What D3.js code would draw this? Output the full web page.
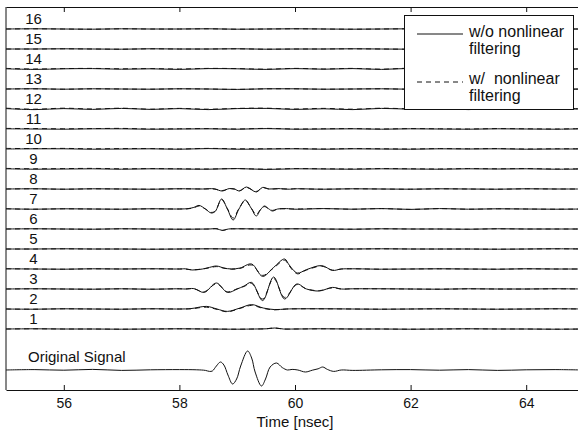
<!DOCTYPE html>
<html lang="en">
<head>
<meta charset="UTF-8">
<title>Channel traces</title>
<script src="https://d3js.org/d3.v7.min.js"></script>
<style>
  body { margin: 0; background: #fff; }
  text { font-family: "Liberation Sans", Arial, sans-serif; fill: #111; }
</style>
</head>
<body>
<script>
// time grid for the background noise of every trace (ns)
const tGrid = [55, 55.5, 56, 56.5, 57, 57.5, 58, 58.5, 59, 59.5, 60, 60.5, 61, 61.5, 62, 62.5, 63, 63.5, 64, 64.5, 65];
const xTicks = [56, 58, 60, 62, 64];
const channelNames = ['1','2','3','4','5','6','7','8','9','10','11','12','13','14','15','16'];

// small background wiggle of each channel, in channel-spacing units
const noiseCh1  = [0, 0.01, 0, 0, -0.01, 0, 0.01, 0, -0.01, 0, 0, 0.01, 0, 0, -0.01, 0, 0.01, 0, 0, -0.01, 0];
const noiseCh2  = [0, -0.01, 0.01, 0, -0.01, 0.01, 0, 0, 0, 0, 0, 0.01, 0, -0.01, 0, 0.01, 0, -0.01, 0, 0.01, 0];
const noiseCh3  = [0, 0.01, 0, -0.01, 0.01, -0.01, 0.01, 0, 0, 0, 0, 0, -0.01, 0.01, 0, -0.01, 0.01, 0, 0, 0.01, 0];
const noiseCh4  = [0.01, 0, -0.01, 0.01, 0, 0.01, -0.01, 0, 0, 0, 0, 0, 0.01, -0.01, 0, 0.01, 0, -0.01, 0.01, 0, 0];
const noiseCh5  = [0, 0, 0.01, 0, 0, -0.01, 0, 0.01, 0, 0, -0.01, 0, 0, 0.01, 0, 0, 0, -0.01, 0, 0.01, 0];
const noiseCh6  = [0, 0.01, 0, -0.01, 0.01, 0, -0.01, 0, 0, 0, 0.01, 0, -0.01, 0.01, 0, 0, -0.01, 0.01, 0, 0, 0];
const noiseCh7  = [0.01, -0.01, 0.01, 0, -0.01, 0.01, 0, 0, 0, 0, -0.02, 0.02, -0.01, 0.02, -0.02, 0.02, -0.01, 0.01, 0, -0.01, 0];
const noiseCh8  = [0, 0.01, -0.01, 0.01, 0, -0.01, 0.01, 0, 0, 0, 0.01, -0.01, 0.01, 0, -0.01, 0.01, 0, -0.01, 0.01, 0, 0];
const noiseCh9  = [0.01, -0.01, 0, 0.01, -0.01, 0.01, 0, -0.01, 0.02, -0.02, 0.01, 0, -0.01, 0.01, 0, -0.01, 0.01, 0, 0.01, -0.01, 0];
const noiseCh10 = [0, 0.01, 0.01, -0.01, 0, 0.01, -0.01, 0.02, -0.01, 0, 0.01, -0.01, 0.01, 0, -0.01, 0.01, 0, 0.01, -0.01, 0, 0];
const noiseCh11 = [0.01, 0, -0.01, 0.01, 0.01, -0.01, 0, 0.01, -0.01, 0.02, -0.01, 0, 0.01, -0.01, 0.01, 0, -0.01, 0.01, 0, -0.01, 0.01];
const noiseCh12 = [0.02, -0.03, 0.02, -0.02, 0.03, -0.02, 0.02, -0.03, 0.02, 0.03, -0.02, 0.01, -0.03, 0.03, -0.01, 0.02, -0.03, 0.02, -0.02, 0.01, -0.01];
const noiseCh13 = [0, 0.01, -0.01, 0.01, 0, -0.01, 0.01, 0, -0.02, 0.01, 0.01, -0.01, 0, 0.01, -0.01, 0.01, 0, -0.01, 0.02, -0.01, 0];
const noiseCh14 = [0.01, -0.02, 0.01, 0.02, -0.01, 0.01, -0.02, 0.02, 0.01, -0.02, 0.02, -0.01, 0.02, -0.02, 0.03, -0.02, 0.02, -0.03, 0.03, -0.02, 0.01];
const noiseCh15 = [0, 0, 0.01, 0, -0.01, 0.01, 0, 0, 0.01, -0.01, 0, 0, 0.01, 0, -0.01, 0, 0.01, 0, 0, -0.01, 0];
const noiseCh16 = [0, 0.01, 0, -0.01, 0.01, 0, 0, 0.01, -0.01, 0, 0.01, 0, -0.01, 0, 0.01, 0, 0, -0.01, 0.01, 0, 0];
const noiseOrig = [0, 0.02, -0.01, 0.03, -0.02, 0.01, 0.02, 0, 0, 0, 0, 0, -0.02, 0.01, 0.02, -0.01, 0.02, -0.02, 0.01, 0.02, 0];

// dashed (w/ filtering) traces that sit visibly off the solid ones
const noiseCh9Dash  = [0.03, 0.01, 0.02, 0.03, 0.01, 0.02, 0.01, 0, 0.02, -0.01, 0.02, 0.01, 0, 0.02, 0.01, 0, 0.02, 0.01, 0.02, 0, 0.01];
const noiseCh10Dash = [0.03, 0.02, 0.03, 0.01, 0.02, 0.02, 0, 0.03, 0.01, 0.01, 0.02, 0, 0.02, 0.01, 0, 0.02, 0.01, 0.02, 0, 0.01, 0.01];
const noiseCh11Dash = [0.03, 0.02, 0.01, 0.02, 0.03, 0, 0.01, 0.02, 0, 0.03, 0, 0.01, 0.02, 0, 0.02, 0.01, 0, 0.02, 0.01, 0, 0.02];
const noiseCh12Dash = [0.04, -0.01, 0.04, 0, 0.04, -0.01, 0.03, -0.01, 0.03, 0.04, 0, 0.03, -0.01, 0.04, 0.01, 0.03, -0.01, 0.03, 0, 0.03, 0.01];
const noiseCh14Dash = [0.03, 0, 0.02, 0.03, 0.01, 0.02, 0, 0.03, 0.02, -0.01, 0.03, 0, 0.03, -0.01, 0.04, -0.01, 0.03, -0.02, 0.04, -0.01, 0.02];

// pulse portions [time ns, value]
const featOrig = [[58.3, 0.01], [58.45, -0.02], [58.52, -0.07], [58.57, -0.05], [58.64, 0.2], [58.71, 0.4], [58.77, 0.25],
  [58.84, -0.25], [58.92, -0.7], [58.99, -0.45], [59.06, 0.2], [59.18, 0.95], [59.25, 0.6], [59.31, -0.1], [59.42, -0.8],
  [59.49, -0.45], [59.57, 0.15], [59.68, 0.35], [59.78, 0.12], [59.87, 0.0], [59.95, 0.03], [60.05, 0.0], [60.18, -0.1],
  [60.3, -0.01], [60.4, 0.06], [60.48, 0.15], [60.56, 0.03], [60.67, -0.07], [60.8, 0.0]];
const featCh1 = [[59.3, 0], [59.5, 0.01], [59.65, 0.05], [59.8, 0.0]];
const featCh2 = [[58.0, 0], [58.2, 0.02], [58.47, 0.13], [58.65, 0.0], [58.83, -0.12], [59.05, 0.05], [59.25, 0.22], [59.45, 0.05], [59.65, -0.03], [59.85, 0.0], [60.1, 0.01]];
const featCh2Dash = [[58.0, 0], [58.2, 0.01], [58.47, 0.09], [58.65, -0.02], [58.83, -0.14], [59.05, 0.03], [59.25, 0.18], [59.45, 0.03], [59.65, -0.04], [59.85, 0.0], [60.1, 0.01]];
const featCh3 = [[58.1, 0], [58.25, 0.02], [58.43, -0.17], [58.64, 0.3], [58.83, -0.17], [59.0, 0.0], [59.12, 0.15], [59.25, 0.33], [59.44, -0.58],
  [59.63, 0.6], [59.82, -0.5], [60.03, 0.25], [60.2, 0.0], [60.42, -0.1], [60.65, 0.08], [60.8, 0], [61.0, 0.01]];
const featCh3Dash = [[58.1, 0], [58.25, 0.01], [58.43, -0.14], [58.64, 0.26], [58.83, -0.14], [59.0, 0.01], [59.12, 0.13], [59.25, 0.28], [59.44, -0.5],
  [59.63, 0.53], [59.82, -0.42], [60.03, 0.22], [60.2, 0.0], [60.42, -0.08], [60.65, 0.06], [60.8, 0], [61.0, 0.01]];
const featCh4 = [[58.0, 0], [58.1, 0.01], [58.22, -0.05], [58.4, 0.0], [58.52, 0.08], [58.64, 0.15], [58.77, 0.05], [58.9, 0.0], [59.05, 0.05],
  [59.25, 0.25], [59.44, -0.37], [59.63, 0.08], [59.82, 0.5], [59.9, 0.2], [60.04, -0.2], [60.2, -0.03], [60.46, 0.17], [60.65, -0.07], [60.8, 0.0], [61.0, 0.01]];
const featCh4Dash = [[58.0, 0], [58.1, 0.0], [58.22, -0.04], [58.4, 0.0], [58.52, 0.06], [58.64, 0.12], [58.77, 0.04], [58.9, -0.01], [59.05, 0.03],
  [59.25, 0.2], [59.44, -0.32], [59.63, 0.05], [59.82, 0.44], [59.9, 0.15], [60.04, -0.24], [60.2, -0.05], [60.46, 0.14], [60.65, -0.06], [60.8, 0.0], [61.0, 0.01]];
const featCh6 = [[58.5, 0], [58.65, 0.01], [58.74, -0.07], [58.85, 0.0], [59.0, 0.01]];
const featCh7 = [[58.0, 0], [58.15, 0.02], [58.25, 0.08], [58.34, 0.18], [58.45, 0.0], [58.55, -0.2], [58.62, -0.12], [58.73, 0.5], [58.83, 0.0],
  [58.93, -0.55], [59.03, 0.0], [59.14, 0.45], [59.24, 0.05], [59.33, -0.35], [59.4, -0.05], [59.47, 0.15], [59.54, 0.02], [59.61, -0.1], [59.7, 0.0], [59.85, 0.02], [60.0, -0.01]];
const featCh7Dash = [[58.0, 0], [58.15, 0.01], [58.25, 0.06], [58.34, 0.15], [58.45, 0.0], [58.55, -0.17], [58.62, -0.1], [58.73, 0.47], [58.83, 0.02],
  [58.93, -0.45], [59.03, 0.02], [59.14, 0.42], [59.24, 0.06], [59.33, -0.28], [59.4, -0.04], [59.47, 0.12], [59.54, 0.02], [59.61, -0.07], [59.7, 0.0], [59.85, 0.01], [60.0, 0]];
const featCh8 = [[58.4, 0], [58.6, 0.01], [58.74, -0.1], [58.86, 0.02], [58.95, 0.0], [59.04, -0.1], [59.16, 0.1], [59.33, -0.15], [59.44, 0.08], [59.55, 0.0], [59.7, 0.02], [59.9, -0.01]];
const featCh8Dash = [[58.4, 0], [58.6, 0.0], [58.74, -0.08], [58.86, 0.01], [58.95, 0.0], [59.04, -0.08], [59.16, 0.07], [59.33, -0.12], [59.44, 0.06], [59.55, 0.0], [59.7, 0.01], [59.9, 0]];

const legendLabels = [['w/o nonlinear', 'filtering'], ['w/  nonlinear', 'filtering']];

// channel table: [channel, solid noise, solid pulse, dashed noise, dashed pulse]
const channelTable = [
  [1, noiseCh1, featCh1, noiseCh1, featCh1],
  [2, noiseCh2, featCh2, noiseCh2, featCh2Dash],
  [3, noiseCh3, featCh3, noiseCh3, featCh3Dash],
  [4, noiseCh4, featCh4, noiseCh4, featCh4Dash],
  [5, noiseCh5, [], noiseCh5, []],
  [6, noiseCh6, featCh6, noiseCh6, featCh6],
  [7, noiseCh7, featCh7, noiseCh7, featCh7Dash],
  [8, noiseCh8, featCh8, noiseCh8, featCh8Dash],
  [9, noiseCh9, [], noiseCh9Dash, []],
  [10, noiseCh10, [], noiseCh10Dash, []],
  [11, noiseCh11, [], noiseCh11Dash, []],
  [12, noiseCh12, [], noiseCh12Dash, []],
  [13, noiseCh13, [], noiseCh13, []],
  [14, noiseCh14, [], noiseCh14Dash, []],
  [15, noiseCh15, [], noiseCh15, []],
  [16, noiseCh16, [], noiseCh16, []]
];
const origOffset = -1.05;

function buildTrace(noise, feat, offset) {
  const t0 = feat.length ? feat[0][0] : Infinity;
  const t1 = feat.length ? feat[feat.length - 1][0] : -Infinity;
  const pts = tGrid.map((t, i) => [t, noise[i]]).filter(p => p[0] < t0 || p[0] > t1);
  return pts.concat(feat).sort((a, b) => a[0] - b[0]).map(p => [p[0], p[1] + offset]);
}

const width = 578, height = 435;
const margin = { top: 7, left: 6 };
const plotRight = 584, plotBottom = 390;

const x = d3.scaleLinear().domain([55, 65]).range([margin.left, plotRight]);
const y = d3.scaleLinear().domain([-2.05, 17.1]).range([plotBottom, margin.top]);

const svg = d3.select('body').append('svg').attr('width', width).attr('height', height);

svg.append('defs').append('clipPath').attr('id', 'clip')
  .append('rect')
  .attr('x', margin.left).attr('y', margin.top)
  .attr('width', plotRight - margin.left).attr('height', plotBottom - margin.top);

const line = d3.line().x(d => x(d[0])).y(d => y(d[1])).curve(d3.curveCatmullRom.alpha(0.5));

const traces = svg.append('g').attr('clip-path', 'url(#clip)');

channelTable.forEach(c => {
  traces.append('path')
    .attr('d', line(buildTrace(c[1], c[2], c[0])))
    .attr('fill', 'none').attr('stroke', '#111').attr('stroke-width', 1);
  traces.append('path')
    .attr('d', line(buildTrace(c[3], c[4], c[0])))
    .attr('fill', 'none').attr('stroke', '#111').attr('stroke-width', 1)
    .attr('stroke-dasharray', '5,4');
});

traces.append('path')
  .attr('d', line(buildTrace(noiseOrig, featOrig, origOffset)))
  .attr('fill', 'none').attr('stroke', '#111').attr('stroke-width', 1);

// channel labels
svg.append('g').selectAll('text')
  .data(channelTable)
  .join('text')
  .attr('x', 33.5)
  .attr('y', d => y(d[0]) - 5)
  .attr('text-anchor', 'middle')
  .attr('font-size', 15)
  .text(d => channelNames[d[0] - 1]);

svg.append('text')
  .attr('x', 28).attr('y', y(origOffset) - 8)
  .attr('font-size', 15)
  .text('Original Signal');

// axes
const xAxis = d3.axisBottom(x).tickValues(xTicks).tickSizeInner(-5).tickSizeOuter(0);
const gx = svg.append('g')
  .attr('transform', `translate(0,${plotBottom})`)
  .call(xAxis);
gx.select('.domain').attr('stroke', '#111');
gx.selectAll('.tick line').attr('stroke', '#111');
gx.selectAll('.tick text')
  .attr('y', 18).attr('dy', null)
  .attr('font-size', 14)
  .attr('font-family', '"Liberation Sans", Arial, sans-serif')
  .attr('fill', '#111');

const xAxisTop = d3.axisTop(x).tickValues(xTicks).tickSizeInner(-5).tickSizeOuter(0).tickFormat('');
const gxt = svg.append('g')
  .attr('transform', `translate(0,${margin.top})`)
  .call(xAxisTop);
gxt.select('.domain').attr('stroke', '#111');
gxt.selectAll('.tick line').attr('stroke', '#111');

svg.append('line')
  .attr('x1', margin.left).attr('x2', margin.left)
  .attr('y1', margin.top).attr('y2', plotBottom)
  .attr('stroke', '#111');

svg.append('text')
  .attr('x', x(60)).attr('y', 427)
  .attr('text-anchor', 'middle')
  .attr('font-size', 15)
  .text('Time [nsec]');

// legend
const legend = svg.append('g');
legend.append('rect')
  .attr('x', 404.5).attr('y', 15.5).attr('width', 169).attr('height', 94)
  .attr('fill', '#fff').attr('stroke', '#111');

const legendRows = legend.selectAll('g.row')
  .data(legendLabels)
  .join('g')
  .attr('class', 'row')
  .attr('transform', (d, i) => `translate(0,${i * 47})`);

legendRows.append('line')
  .attr('x1', 417).attr('x2', 463)
  .attr('y1', (d, i) => i ? 35 : 34).attr('y2', (d, i) => i ? 35 : 34)
  .attr('stroke', '#111')
  .attr('stroke-dasharray', (d, i) => i ? '5,4' : null);

legendRows.append('text')
  .attr('x', 469).attr('y', 37)
  .attr('font-size', 16)
  .style('white-space', 'pre')
  .text(d => d[0]);

legendRows.append('text')
  .attr('x', 469).attr('y', 54)
  .attr('font-size', 16)
  .text(d => d[1]);
</script>
</body>
</html>
